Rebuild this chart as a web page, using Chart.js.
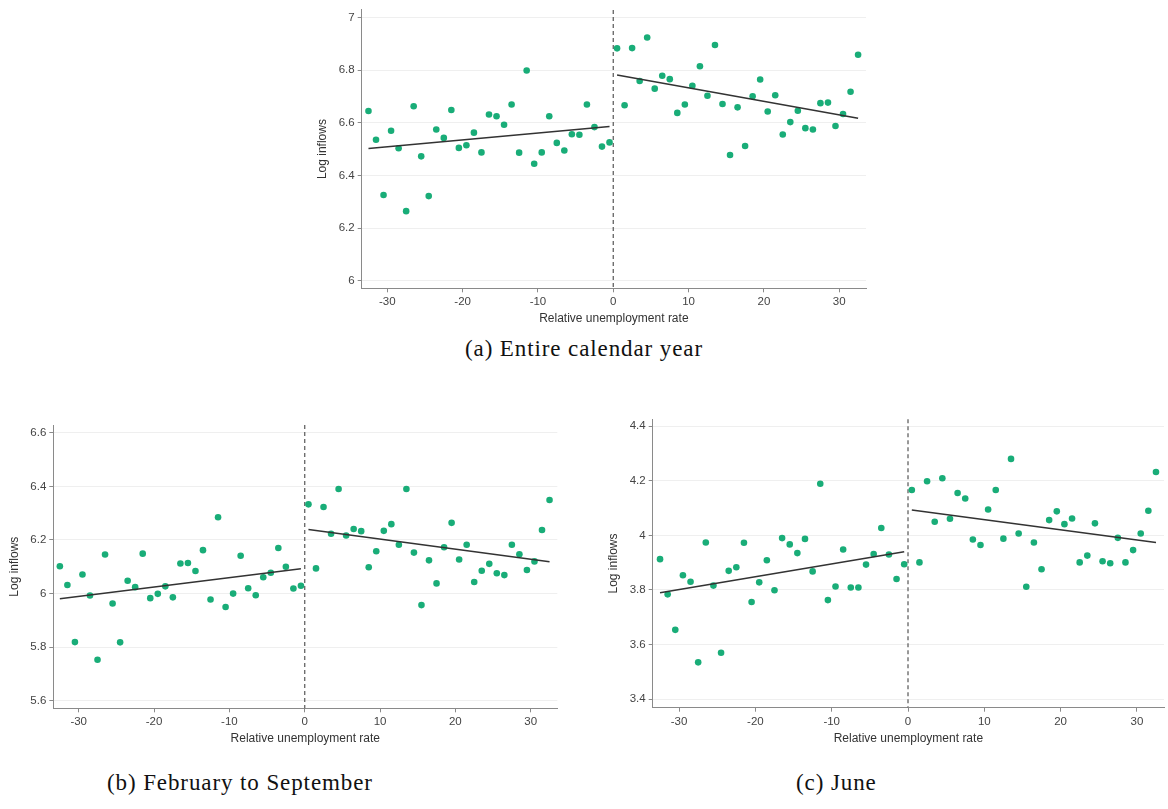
<!DOCTYPE html>
<html>
<head>
<meta charset="utf-8">
<script src="https://cdn.jsdelivr.net/npm/chart.js@4.4.0/dist/chart.umd.min.js"></script>
<style>
  html, body { margin: 0; padding: 0; background: #fff; }
  body { width: 1168px; height: 809px; position: relative; overflow: hidden; }
  canvas { position: absolute; }
  .cap {
    position: absolute;
    font-family: "Liberation Serif", serif;
    font-size: 23px;
    line-height: 23px;
    letter-spacing: 0.9px;
    white-space: nowrap;
    color: #111;
  }
</style>
</head>
<body>
<canvas id="panel-a" width="570" height="330" style="left:300px;top:0px"></canvas>
<canvas id="panel-b" width="562" height="340" style="left:0px;top:410px"></canvas>
<canvas id="panel-c" width="568" height="350" style="left:600px;top:400px"></canvas>
<div class="cap" style="left:0;width:1168px;text-align:center;top:337px">(a) Entire calendar year</div>
<div class="cap" style="left:107px;top:771px">(b) February to September</div>
<div class="cap" style="left:796px;top:771px">(c) June</div>
<script>
// bin centres of the relative unemployment rate, either side of the cutoff
const xLeft = [-32.5, -31.5, -30.5, -29.5, -28.5, -27.5, -26.5, -25.5, -24.5, -23.5, -22.5,
  -21.5, -20.5, -19.5, -18.5, -17.5, -16.5, -15.5, -14.5, -13.5, -12.5, -11.5, -10.5,
  -9.5, -8.5, -7.5, -6.5, -5.5, -4.5, -3.5, -2.5, -1.5, -0.5];
const xRight = [0.5, 1.5, 2.5, 3.5, 4.5, 5.5, 6.5, 7.5, 8.5, 9.5, 10.5, 11.5, 12.5, 13.5,
  14.5, 15.5, 16.5, 17.5, 18.5, 19.5, 20.5, 21.5, 22.5, 23.5, 24.5, 25.5, 26.5, 27.5,
  28.5, 29.5, 30.5, 31.5, 32.5];
const xTicks = [-30, -20, -10, 0, 10, 20, 30];
const cutoff = 0;

// (a) entire calendar year
const yearLeft = [6.645, 6.536, 6.326, 6.570, 6.504, 6.265, 6.663, 6.473, 6.322, 6.575, 6.543,
  6.649, 6.505, 6.515, 6.563, 6.488, 6.632, 6.625, 6.593, 6.670, 6.487, 6.799, 6.445,
  6.488, 6.625, 6.524, 6.495, 6.557, 6.555, 6.670, 6.584, 6.510, 6.526];
const yearRight = [6.883, 6.667, 6.884, 6.759, 6.924, 6.730, 6.779, 6.766, 6.638, 6.670, 6.741,
  6.815, 6.703, 6.896, 6.672, 6.478, 6.659, 6.512, 6.701, 6.765, 6.643, 6.705, 6.556,
  6.603, 6.646, 6.580, 6.575, 6.675, 6.677, 6.588, 6.634, 6.718, 6.859];
const yearFitLeft = [6.503, 6.586];
const yearFitRight = [6.782, 6.618];
const yearTicks = [6, 6.2, 6.4, 6.6, 6.8, 7];

// (b) February to September
const febSepLeft = [6.102, 6.032, 5.819, 6.071, 5.993, 5.753, 6.146, 5.963, 5.818, 6.048, 6.024,
  6.149, 5.983, 5.999, 6.027, 5.986, 6.112, 6.114, 6.084, 6.162, 5.978, 6.285, 5.950,
  6.000, 6.141, 6.020, 5.994, 6.061, 6.078, 6.170, 6.100, 6.019, 6.029];
const febSepRight = [6.333, 6.094, 6.323, 6.223, 6.390, 6.217, 6.241, 6.233, 6.098, 6.158, 6.234,
  6.259, 6.182, 6.390, 6.153, 5.957, 6.124, 6.038, 6.173, 6.264, 6.127, 6.182, 6.043,
  6.085, 6.111, 6.076, 6.069, 6.182, 6.147, 6.088, 6.120, 6.237, 6.349];
const febSepFitLeft = [5.981, 6.093];
const febSepFitRight = [6.239, 6.119];
const febSepTicks = [5.6, 5.8, 6, 6.2, 6.4, 6.6];

// (c) June
const juneLeft = [3.913, 3.784, 3.654, 3.854, 3.830, 3.535, 3.974, 3.816, 3.570, 3.870, 3.883,
  3.973, 3.756, 3.828, 3.909, 3.799, 3.990, 3.967, 3.935, 3.987, 3.868, 4.189, 3.763,
  3.813, 3.948, 3.809, 3.809, 3.893, 3.932, 4.027, 3.930, 3.840, 3.894];
const juneRight = [4.166, 3.901, 4.198, 4.050, 4.209, 4.061, 4.155, 4.135, 3.985, 3.965, 4.095,
  4.166, 3.988, 4.280, 4.007, 3.812, 3.974, 3.876, 4.056, 4.088, 4.041, 4.062, 3.901,
  3.926, 4.044, 3.905, 3.898, 3.991, 3.901, 3.946, 4.007, 4.090, 4.232];
const juneFitLeft = [3.790, 3.940];
const juneFitRight = [4.093, 3.974];
const juneTicks = [3.4, 3.6, 3.8, 4, 4.2, 4.4];

const fitXLeft = [-32.5, -0.5];
const fitXRight = [0.5, 32.5];

const GREEN = "#19ad78";
const INK = "#333333";
const AXIS = "#8a8a8a";
const GRID = "#efefef";
const SANS = "'Liberation Sans', Arial, sans-serif";
const Y_AXIS_W = 49;

function pts(xs, ys) {
  return xs.map((x, i) => ({ x: x, y: ys[i] }));
}

// vertical dashed line at the cutoff, placed through the x scale
const cutoffLine = {
  id: "cutoffLine",
  beforeDatasetsDraw(chart) {
    const { ctx, chartArea, scales } = chart;
    const px = scales.x.getPixelForValue(cutoff);
    ctx.save();
    ctx.strokeStyle = "#6e6e6e";
    ctx.lineWidth = 1.4;
    ctx.setLineDash([4, 3]);
    ctx.beginPath();
    ctx.moveTo(px, chartArea.top);
    ctx.lineTo(px, chartArea.bottom);
    ctx.stroke();
    ctx.restore();
  },
};

// box: canvas position on the page; area: wanted plot area on the page
function makePanel(id, box, area, xRange, yRange, yTicks, left, right, fitL, fitR) {
  const xHeight = box.top + box.h - area.bottom;
  return new Chart(document.getElementById(id), {
    type: "scatter",
    data: {
      datasets: [
        { data: pts(xLeft, left), backgroundColor: GREEN, pointRadius: 3.3, borderWidth: 0, order: 2 },
        { data: pts(xRight, right), backgroundColor: GREEN, pointRadius: 3.3, borderWidth: 0, order: 2 },
        { type: "line", data: pts(fitXLeft, fitL), borderColor: INK, borderWidth: 1.5, pointRadius: 0, order: 1 },
        { type: "line", data: pts(fitXRight, fitR), borderColor: INK, borderWidth: 1.5, pointRadius: 0, order: 1 },
      ],
    },
    options: {
      responsive: false,
      animation: false,
      events: [],
      layout: {
        padding: {
          left: area.left - box.left - Y_AXIS_W,
          top: area.top - box.top,
          right: box.left + box.w - area.right,
          bottom: 0,
        },
      },
      plugins: { legend: { display: false }, tooltip: { enabled: false } },
      scales: {
        x: {
          type: "linear",
          min: xRange[0],
          max: xRange[1],
          afterBuildTicks: (s) => { s.ticks = xTicks.map((v) => ({ value: v })); },
          afterFit: (s) => { s.height = xHeight; },
          grid: { drawOnChartArea: false, tickLength: 4, tickColor: AXIS },
          border: { color: AXIS, width: 1 },
          ticks: { color: "#444", padding: 3, maxRotation: 0, font: { family: SANS, size: 11.5 } },
          title: {
            display: true,
            text: "Relative unemployment rate",
            color: INK,
            padding: { top: 0, bottom: 4 },
            font: { family: SANS, size: 12 },
          },
        },
        y: {
          type: "linear",
          min: yRange[0],
          max: yRange[1],
          afterBuildTicks: (s) => { s.ticks = yTicks.map((v) => ({ value: v })); },
          afterFit: (s) => { s.width = Y_AXIS_W; },
          grid: { color: GRID, lineWidth: 1, tickLength: 4, tickColor: AXIS },
          border: { color: AXIS, width: 1 },
          ticks: {
            color: "#444",
            padding: 3,
            font: { family: SANS, size: 11.5 },
            callback: (v) => String(Math.round(v * 10) / 10),
          },
          title: {
            display: true,
            text: "Log inflows",
            color: INK,
            padding: { top: 3, bottom: 0 },
            font: { family: SANS, size: 12 },
          },
        },
      },
    },
    plugins: [cutoffLine],
  });
}

makePanel("panel-a",
  { left: 300, top: 0, w: 570, h: 330 },
  { left: 361.7, top: 5, right: 866, bottom: 288.3 },
  [-33.4, 33.55], [5.972, 7.029], yearTicks,
  yearLeft, yearRight, yearFitLeft, yearFitRight);

makePanel("panel-b",
  { left: 0, top: 410, w: 562, h: 340 },
  { left: 53.3, top: 425, right: 557.3, bottom: 708.3 },
  [-33.37, 33.53], [5.572, 6.629], febSepTicks,
  febSepLeft, febSepRight, febSepFitLeft, febSepFitRight);

makePanel("panel-c",
  { left: 600, top: 400, w: 568, h: 350 },
  { left: 652.7, top: 419.3, right: 1168, bottom: 707.7 },
  [-33.46, 33.55], [3.369, 4.425], juneTicks,
  juneLeft, juneRight, juneFitLeft, juneFitRight);
</script>
</body>
</html>
